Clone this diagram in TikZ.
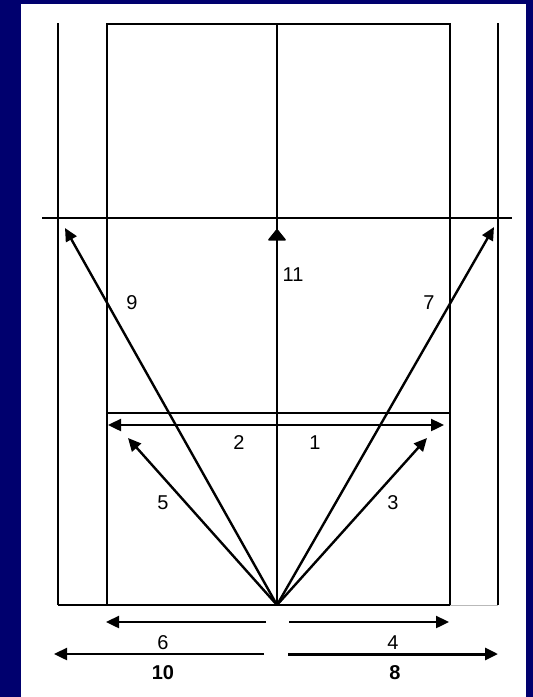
\documentclass[tikz,border=0pt]{standalone}
\usepackage{fontspec}
\setmainfont{Liberation Sans}
\usetikzlibrary{arrows.meta}
\definecolor{navy}{RGB}{0,0,110}
\begin{document}
\begin{tikzpicture}[x=1pt,y=-1pt,
  court/.style={line width=1.5pt},
  shot/.style={line width=2.4pt,-{Triangle[length=13pt,width=12pt]}},
  twoway/.style={line width=2.4pt,{Triangle[length=13pt,width=12pt]}-{Triangle[length=13pt,width=12pt]}},
  lbl/.style={font=\fontsize{20}{24}\selectfont, inner sep=0pt},
  blbl/.style={font=\bfseries\fontsize{20}{24}\selectfont, inner sep=0pt}]
\fill[navy] (0,0) rectangle (533,697);
\fill[white] (21,4) rectangle (526,697);
\useasboundingbox (0,0) rectangle (533,697);
% court
\coordinate (O) at (277,605);
\coordinate (ctop) at (277,24);
\coordinate (lotop) at (58,23);
\coordinate (lobot) at (58,605);
\coordinate (litop) at (107,24);
\coordinate (libot) at (107,605);
\coordinate (ritop) at (450,24);
\coordinate (ribot) at (450,605);
\coordinate (rotop) at (498,23);
\coordinate (robot) at (498,605);
\coordinate (hl) at (42,218);
\coordinate (hr) at (512,218);
\coordinate (al) at (107,413);
\coordinate (ar) at (450,413);
\draw[court] (lotop) -- (lobot);
\draw[court] (rotop) -- (robot);
\draw[court] (libot) -- (litop) -- (ritop) -- (ribot);
\draw[court] (ctop) -- (O);
\draw[court] (hl) -- (hr);
\draw[court] (al) -- (ar);
\draw[line width=2.8pt] (lobot) -- (ribot);
\draw[gray!55, line width=1pt] (ribot) -- (robot);
% shots
\coordinate (t9) at (65,228);
\coordinate (t7) at (494,227);
\coordinate (t5) at (128,438);
\coordinate (t3) at (427,438);
\coordinate (t11) at (277,229);
\coordinate (d1) at (108,425);
\coordinate (d2) at (444,425);
\draw[shot] (O) -- (t9);
\draw[shot] (O) -- (t7);
\draw[shot] (O) -- (t5);
\draw[shot] (O) -- (t3);
\draw[line width=1.5pt,-{Triangle[length=12pt,width=19pt,round]}] (O) -- (t11);
\draw[twoway] (d1) -- (d2);
% bottom arrows
\coordinate (s6) at (266,622);
\coordinate (e6) at (106,622);
\coordinate (s4) at (289,622);
\coordinate (e4) at (449,622);
\coordinate (s10) at (264,654);
\coordinate (e10) at (54,654);
\coordinate (s8) at (288,654);
\coordinate (e8) at (498,654);
\draw[shot] (s6) -- (e6);
\draw[shot] (s4) -- (e4);
\draw[shot] (s10) -- (e10);
\draw[shot, line width=3pt] (s8) -- (e8);
% labels
\node[lbl] (l9) at (132,303) {9};
\node[lbl] (l7) at (429,303) {7};
\node[lbl] (l11) at (293,275) {11};
\node[lbl] (l2) at (239,443) {2};
\node[lbl] (l1) at (315,443) {1};
\node[lbl] (l5) at (163,503) {5};
\node[lbl] (l3) at (393,503) {3};
\node[lbl] (l6) at (163,643) {6};
\node[lbl] (l4) at (393,643) {4};
\node[blbl] (l10) at (163,673) {10};
\node[blbl] (l8) at (395,673) {8};
\end{tikzpicture}
\end{document}
